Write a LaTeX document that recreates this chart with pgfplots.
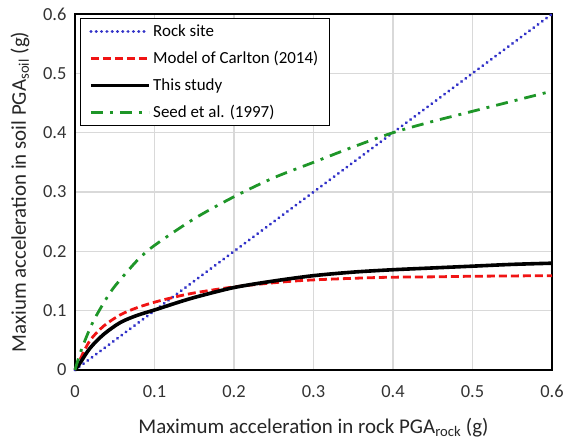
\documentclass[border=0pt]{standalone}
\usepackage{pgfplots}
\pgfplotsset{compat=1.18}
\usepackage{fontspec}
\setmainfont{Carlito}

\definecolor{rockblue}{RGB}{50,50,200}
\definecolor{carlred}{RGB}{240,20,20}
\definecolor{seedgreen}{RGB}{30,150,40}
\definecolor{gridgray}{RGB}{217,217,217}

\begin{document}
\begin{tikzpicture}
\path[use as bounding box] (-75bp,-69bp) rectangle (490bp,370bp);
\begin{axis}[
  scale only axis,
  width=477bp, height=356bp,
  at={(0,0)}, anchor=south west,
  xmin=0, xmax=0.6, ymin=0, ymax=0.6,
  xtick={0,0.1,...,0.6}, ytick={0,0.1,...,0.6},
  xticklabels={0,0.1,0.2,0.3,0.4,0.5,0.6},
  yticklabels={0,0.1,0.2,0.3,0.4,0.5,0.6},
  grid=major,
  major grid style={gridgray, line width=1.4bp},
  axis line style={black, line width=1.4bp},
  tick style={draw=none},
  ticklabel style={font=\fontsize{18.5}{22}\selectfont, text=black!80},
  xticklabel style={anchor=north, yshift=-12bp},
  yticklabel style={anchor=east, xshift=-5bp},
  xlabel={Maximum acceleration in rock PGA\textsubscript{rock} (g)},
  ylabel={Maxium acceleration in soil PGA\textsubscript{soil} (g)},
  label style={font=\fontsize{21}{25}\selectfont, text=black!85},
  xlabel style={at={(axis description cs:0.5,0)}, anchor=base, yshift=-63bp},
  ylabel style={at={(axis description cs:-0.1153,0.5)}, anchor=center},
  legend style={at={(0,1)}, anchor=north west, xshift=5bp, yshift=-4bp,
    draw=black, line width=1.3bp,
    font=\fontsize{17}{20}\selectfont,
    nodes={font=\fontsize{17}{20}\selectfont, inner sep=2.5bp},
    row sep=8.5bp, inner xsep=8.5bp, inner ysep=3.5bp},
  legend cell align=left,
  legend image code/.code={\draw[#1] (0bp,0bp) -- (58bp,0bp);},
  clip=false,
]
% rock site: 1:1 line
\addplot[rockblue, line width=3.2bp, dash pattern=on 0.1bp off 5.2bp, line cap=round]
  coordinates {(0,0) (0.6,0.6)};
\addlegendentry{Rock site}
% Carlton (2014)
\addplot[carlred, line width=2.8bp, dash pattern=on 8bp off 4bp, smooth, tension=0.5]
  coordinates {(0,0) (0.006,0.017) (0.019,0.050) (0.036,0.074) (0.057,0.093)
  (0.078,0.105) (0.102,0.115) (0.132,0.125) (0.155,0.131) (0.2,0.140)
  (0.258,0.148) (0.302,0.152) (0.384,0.156) (0.45,0.157) (0.5,0.158) (0.6,0.159)};
\addlegendentry{Model of Carlton (2014)}
% this study
\addplot[black, line width=3.6bp, smooth, tension=0.5]
  coordinates {(0,0) (0.006,0.011) (0.019,0.037) (0.036,0.060) (0.057,0.080)
  (0.078,0.092) (0.102,0.102) (0.132,0.115) (0.155,0.124) (0.2,0.139)
  (0.25,0.150) (0.3,0.159) (0.35,0.165) (0.4,0.169) (0.45,0.172)
  (0.5,0.175) (0.55,0.178) (0.6,0.180)};
\addlegendentry{This study}
% Seed et al. (1997)
\addplot[seedgreen, line width=2.8bp, dash pattern=on 12bp off 7bp on 3bp off 7bp, smooth, tension=0.5]
  coordinates {(0,0) (0.008,0.034) (0.023,0.082) (0.044,0.130) (0.06,0.157)
  (0.08,0.187) (0.1,0.210) (0.15,0.255) (0.2,0.292) (0.25,0.324)
  (0.3,0.350) (0.35,0.376) (0.4,0.400) (0.45,0.419) (0.5,0.436)
  (0.55,0.453) (0.6,0.470)};
\addlegendentry{Seed et al. (1997)}
\end{axis}
\end{tikzpicture}
\end{document}
